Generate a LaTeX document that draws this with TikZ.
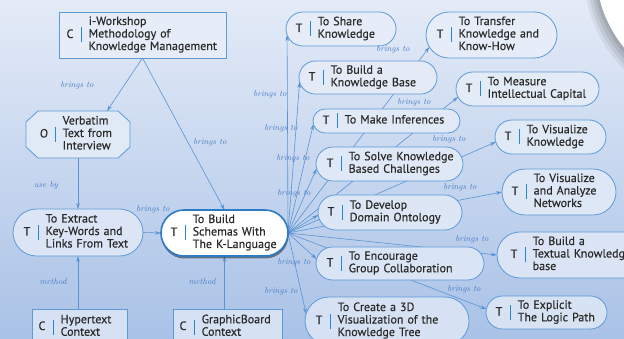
\documentclass[tikz,border=0pt]{standalone}
\usepackage{fontspec}
\newfontfamily\nodefont[FakeBold=0.4]{PT Sans}
\usetikzlibrary{arrows.meta,shadows,calc}
\pgfdeclarelayer{back}
\pgfdeclarelayer{links}
\pgfsetlayers{back,links,main}
\definecolor{bgtop}{HTML}{E4EBF7}
\definecolor{bgbot}{HTML}{A9C2E7}
\definecolor{nft}{HTML}{E8EEF8}
\definecolor{nfb}{HTML}{D5E1F3}
\definecolor{bord}{HTML}{5E9AD6}
\definecolor{hubbord}{HTML}{2D7BC4}
\definecolor{linkc}{HTML}{5B93D3}
\definecolor{lblc}{HTML}{4A7DC4}
\definecolor{barc}{HTML}{2A86D1}
\definecolor{txt}{HTML}{2A2A2A}
\newcommand{\ndc}[2]{\mbox{\makebox[8pt]{#1}\hspace{6.5pt}{\color{barc}\rule[-4.5pt]{1.2pt}{15pt}}\hspace{7pt}\begin{tabular}[c]{@{}l@{}}#2\end{tabular}}}
\tikzset{
  box/.style={draw=bord, line width=0.8pt, text=txt, font=\nodefont\fontsize{12}{12.5}\selectfont,
    align=left, anchor=west, inner ysep=0pt, outer sep=0pt},
  sbox/.style={box, rounded corners=#1},
  conn/.style={draw=linkc, line width=0.6pt, -{Stealth[length=6pt,width=3.6pt]}},
  lbl/.style={text=lblc, font=\itshape\fontsize{8.5}{9}\selectfont, inner sep=0pt},
}
\begin{document}
\begin{tikzpicture}[x=1pt,y=-1pt]
\useasboundingbox (0,0) rectangle (624,339);
% ---------- nodes
\node[box, fill=nfb!10!nft, minimum width=167pt, minimum height=46pt, inner xsep=7pt, text width=153pt] (iw) at (59,35) {\ndc{C}{i-Workshop\\Methodology of\\Knowledge Management}};
\node[box, draw=none, minimum width=104pt, minimum height=47pt, inner xsep=14pt, text width=76pt] (verb) at (26,134.5) {\ndc{O}{Verbatim\\Text from\\Interview}};
\node[sbox=23.5pt, fill=nfb!69!nft, minimum width=130pt, minimum height=47pt, inner xsep=10pt, text width=110pt] (ext) at (13,232.5) {\ndc{T}{To Extract\\Key-Words and\\Links From Text}};
\node[sbox=23pt, fill=white, draw=hubbord, line width=1.6pt, drop shadow={shadow xshift=0.5pt, shadow yshift=-2.5pt, fill=black, opacity=0.45}, minimum width=127pt, minimum height=46pt, inner xsep=9pt, text width=109pt] (hub) at (161,233) {\ndc{T}{To Build\\Schemas With\\The K-Language}};
\node[box, fill=nfb!96!nft, minimum width=95pt, minimum height=36pt, inner xsep=6pt, text width=83pt] (hyp) at (32,327) {\ndc{C}{Hypertext\\Context}};
\node[box, fill=nfb!96!nft, minimum width=109pt, minimum height=36pt, inner xsep=6pt, text width=97pt] (gb) at (173,327) {\ndc{C}{GraphicBoard\\Context}};

\node[sbox=17pt, fill=nfb!9!nft, minimum width=110pt, minimum height=34pt, inner xsep=9pt, text width=92pt] (share) at (286,29) {\ndc{T}{To Share\\Knowledge}};
\node[sbox=23pt, fill=nfb!10!nft, minimum width=131pt, minimum height=46pt, inner xsep=10pt, text width=111pt] (transfer) at (426,35) {\ndc{T}{To Transfer\\Knowledge and\\Know-How}};
\node[sbox=16.5pt, fill=nfb!23!nft, minimum width=138pt, minimum height=33pt, inner xsep=9pt, text width=120pt] (kb) at (299,77.5) {\ndc{T}{To Build a\\Knowledge Base}};
\node[sbox=17pt, fill=nfb!26!nft, minimum width=143pt, minimum height=34pt, inner xsep=9pt, text width=125pt] (measure) at (456,89) {\ndc{T}{To Measure\\Intellectual Capital}};
\node[sbox=12pt, fill=nfb!36!nft, minimum width=147pt, minimum height=24pt, inner xsep=9pt, text width=129pt] (mi) at (313,121) {\ndc{T}{To Make Inferences}};
\node[sbox=17pt, fill=nfb!40!nft, minimum width=111pt, minimum height=34pt, inner xsep=9pt, text width=93pt] (visk) at (495,137) {\ndc{T}{To Visualize\\Knowledge}};
\node[sbox=17pt, fill=nfb!48!nft, minimum width=147pt, minimum height=34pt, inner xsep=10pt, text width=127pt] (solve) at (316,164) {\ndc{T}{To Solve Knowledge\\Based Challenges}};
\node[sbox=23pt, fill=nfb!57!nft, minimum width=114pt, minimum height=46pt, inner xsep=9pt, text width=96pt] (visnet) at (502,192) {\ndc{T}{To Visualize\\and Analyze\\Networks}};
\node[sbox=17.5pt, fill=nfb!63!nft, minimum width=144pt, minimum height=35pt, inner xsep=9pt, text width=126pt] (dev) at (318,212.5) {\ndc{T}{To Develop\\Domain Ontology}};
\node[sbox=23pt, fill=nfb!75!nft, minimum width=163pt, minimum height=46pt, inner xsep=13pt, text width=137pt] (textual) at (497,255) {\ndc{T}{To Build a\\Textual Knowledge\\base}};
\node[sbox=16.5pt, fill=nfb!78!nft, minimum width=168pt, minimum height=33pt, inner xsep=10pt, text width=148pt] (enc) at (316,263.5) {\ndc{T}{To Encourage\\Group Collaboration}};
\node[sbox=16.5pt, fill=nfb!92!nft, minimum width=121pt, minimum height=33pt, inner xsep=9pt, text width=103pt] (expl) at (486,312.5) {\ndc{T}{To Explicit\\The Logic Path}};
\node[sbox=24pt, fill=nfb!95!nft, minimum width=164pt, minimum height=48pt, inner xsep=10pt, text width=144pt] (c3d) at (305,321) {\ndc{T}{To Create a 3D\\Visualization of the\\Knowledge Tree}};

% ---------- labels
\node[lbl] (l1) at (77,85) {brings to};
\node[lbl] (l2) at (210,142) {brings to};
\node[lbl] (l3) at (46,185) {use by};
\node[lbl] (l4) at (153,209) {brings to};
\node[lbl] (l5) at (53,282) {method};
\node[lbl] (l6) at (202,282) {method};
\node[lbl] (l7) at (270,94) {brings to};
\node[lbl] (l8) at (281,128) {brings to};
\node[lbl] (l9) at (293,158) {brings to};
\node[lbl] (l10) at (294,193) {brings to};
\node[lbl] (l11) at (294,262) {brings to};
\node[lbl] (l12) at (281,291) {brings to};
\node[lbl] (l13) at (393,49) {brings to};
\node[lbl] (l14) at (414,102) {brings to};
\node[lbl] (l15) at (449,139) {brings to};
\node[lbl] (l16) at (460,187) {brings to};
\node[lbl] (l17) at (472,239) {brings to};
\node[lbl] (l18) at (464,289) {brings to};

% ---------- background
\begin{pgfonlayer}{back}
\shade[top color=bgtop, bottom color=bgbot] (0,0) rectangle (624,339);
\fill[black, opacity=0.06] (720,-27) circle[radius=136pt];
\fill[black, opacity=0.07] (720,-28) circle[radius=133pt];
\fill[black, opacity=0.08] (720,-29) circle[radius=130pt];
\fill[black, opacity=0.09] (720,-30) circle[radius=127pt];
\fill[white] (720,-31) circle[radius=124pt];
% octagon outline of the Verbatim node
\filldraw[draw=bord, line width=0.8pt, fill=nfb!40!nft]
  ($(verb.north west)+(12,0)$) -- ($(verb.north east)+(-12,0)$) -- ($(verb.north east)+(0,11)$)
  -- ($(verb.south east)+(0,-11)$) -- ($(verb.south east)+(-12,0)$) -- ($(verb.south west)+(12,0)$)
  -- ($(verb.south west)+(0,-11)$) -- ($(verb.north west)+(0,11)$) -- cycle;
\end{pgfonlayer}

% ---------- connectors
\begin{pgfonlayer}{links}
\draw[conn] (iw.south) -- ($(verb.north)+(29,0)$);
\draw[conn] (iw.south) -- (hub.north);
\draw[conn] (verb.south) -- (ext.north);
\draw[conn] (ext.east) -- (hub.west);
\draw[conn] (ext.south |- hyp.north) -- (ext.south);
\draw[conn] (hub.south |- gb.north) -- (hub.south);
\draw[conn] (hub.east) -- ($(share.west)+(1.1,6)$);
\draw[conn] (hub.east) -- ($(kb.west)+(0.6,4.5)$);
\draw[conn] (hub.east) -- ($(mi.west)+(0.4,3)$);
\draw[conn] (hub.east) -- ($(solve.west)+(0.6,4.5)$);
\draw[conn] (hub.east) -- ($(dev.west)+(0.2,2.5)$);
\draw[conn] (hub.east) -- ($(enc.west)+(0.6,-4.5)$);
\draw[conn] (hub.east) -- ($(c3d.west)+(1.1,-7)$);
\draw[conn] (hub.east) -- ($(transfer.west)+(3.4,12)$);
\draw[conn] (hub.east) -- ($(measure.west)+(2,8)$);
\draw[conn] (hub.east) -- ($(visk.west)+(0.75,5)$);
\draw[conn] (hub.east) -- (visnet.west);
\draw[conn] (hub.east) -- (textual.west);
\draw[conn] (hub.east) -- ($(expl.west)+(0.4,-3.5)$);
\end{pgfonlayer}
\end{tikzpicture}
\end{document}
